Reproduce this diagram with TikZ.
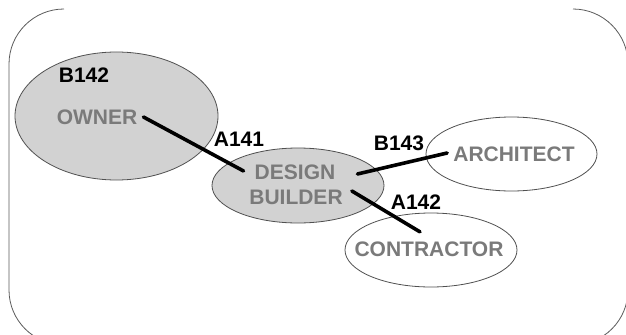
\documentclass[tikz,border=0pt]{standalone}
\usepackage{fontspec}
\setmainfont{Liberation Sans}
\usetikzlibrary{shapes.geometric}
\definecolor{bubblefill}{HTML}{D2D2D2}
\definecolor{bubbleedge}{HTML}{505050}
\definecolor{roletext}{HTML}{7A7A7A}
\definecolor{framecol}{HTML}{5A5A5A}
\tikzset{
  bubble/.style={ellipse, draw=bubbleedge, line width=0.8bp, inner sep=0pt},
  party/.style={bubble, fill=bubblefill},
  outsider/.style={bubble, fill=white},
  role/.style={inner sep=0pt, text=roletext, font=\fontsize{21bp}{25bp}\selectfont\bfseries},
  tag/.style={inner sep=0pt, text=black, font=\fontsize{21bp}{25bp}\selectfont\bfseries},
  link/.style={line width=3.6bp, line cap=round, black},
  frame/.style={draw=framecol, line width=0.8bp}
}
\begin{document}
\begin{tikzpicture}[x=1bp, y=1bp]
\useasboundingbox (0,0) rectangle (626,334);

% open outer frame: corners and sides, no top edge
\path[frame] (64,325) arc[start angle=90, end angle=180, radius=55]
  -- (9,44) arc[start angle=180, end angle=270, radius=55]
  -- (573,-11) arc[start angle=270, end angle=360, radius=55]
  -- (628,270) arc[start angle=0, end angle=90, radius=55];

% parties
\node[party, minimum width=203bp, minimum height=128bp] (owner) at (116.5,218) {};
\node[party, minimum width=172bp, minimum height=75bp] (db) at (298,148.5) {};
\node[outsider, minimum width=171bp, minimum height=74bp] (arch) at (511.5,180) {};
\node[outsider, minimum width=172bp, minimum height=74bp] (contr) at (431,84) {};

% role names
\node[role] (ownertxt) at (97,217) {OWNER};
\node[role] (dsg) at (295,162) {DESIGN};
\node[role] (bld) at (296,137) {BUILDER};
\node[role] (archtxt) at (514,180) {ARCHITECT};
\node[role] (contrtxt) at (429,85) {CONTRACTOR};

% agreements
\draw[link] ([shift={(6,0)}]ownertxt.east) -- ([shift={(-11,1)}]dsg.west);
\draw[link] ([shift={(22,-2)}]dsg.east) -- ([shift={(-6,1)}]archtxt.west);
\draw[link] ([shift={(9,6)}]bld.east) -- ([shift={(-9,9.5)}]contrtxt.north);

% document labels
\node[tag] (b142) at (84,259) {B142};
\node[tag] (a141) at (239,195) {A141};
\node[tag] (b143) at (399,191) {B143};
\node[tag] (a142) at (416,132) {A142};
\end{tikzpicture}
\end{document}
